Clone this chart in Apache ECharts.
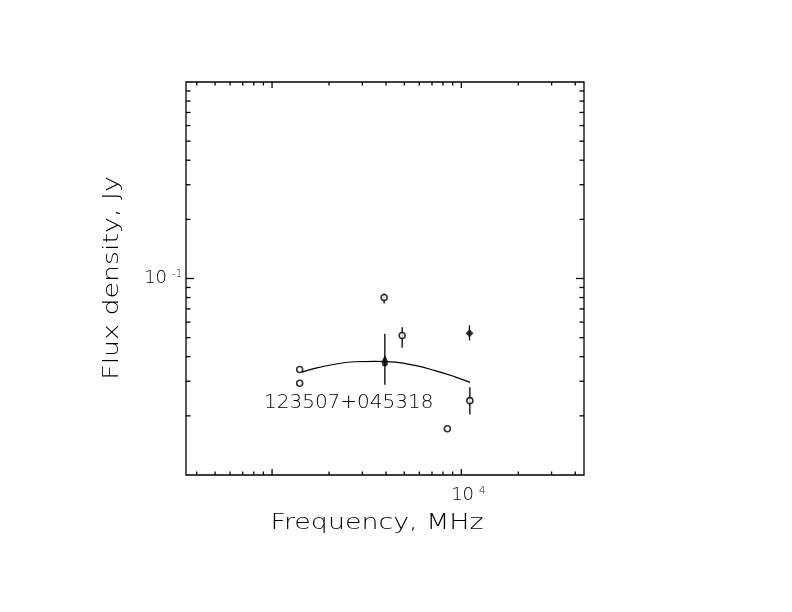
<!DOCTYPE html>
<html lang="en">
<head>
<meta charset="utf-8">
<title>123507+045318</title>
<script src="https://cdn.jsdelivr.net/npm/echarts@6.0.0/dist/echarts.min.js"></script>
<style>
    html, body { margin: 0; padding: 0; background: #fff; }
    #main { width: 792px; height: 612px; }
</style>
</head>
<body>
<div id="main"></div>
<script type="text/javascript">
    // values: frequency in MHz, flux density in Jy
    var openX = [1400, 1400, 3910, 4870, 11100, 8440];
    var openY = [0.0344, 0.0293, 0.0800, 0.0513, 0.0239, 0.0172];
    var dotX = [3945];
    var dotY = [0.0369];
    var diamondX = [11050];
    var diamondY = [0.0527];
    var triX = [3945];
    var triY = [0.0392];

    // error bars
    var errX = [3910, 4870, 11050, 3945, 11100];
    var errLo = [0.0746, 0.0444, 0.0484, 0.0288, 0.0203];
    var errHi = [0.0838, 0.0565, 0.0577, 0.0523, 0.0280];

    // fitted spectrum
    var fitX = [1441, 1682, 2146, 2739, 3495, 4459, 5689, 7259, 9262, 11120];
    var fitY = [0.0334, 0.0349, 0.0366, 0.0377, 0.0379, 0.0375, 0.0361, 0.0340, 0.0316, 0.0296];

    // tick values
    var xMajorTicks = [1000, 10000];
    var xMinorTicks = [400, 500, 600, 700, 800, 900, 2000, 3000, 4000, 5000, 6000, 7000, 8000, 9000, 20000, 30000, 40000];
    var yMajorTicks = [0.1];
    var yMinorTicks = [0.02, 0.03, 0.04, 0.05, 0.06, 0.07, 0.08, 0.09, 0.2, 0.3, 0.4, 0.5, 0.6, 0.7, 0.8, 0.9];
    var xLabelTicks = [10000];
    var yLabelTicks = [0.1];
    var sourceName = '123507+045318';

    var FONT = "'DejaVu Sans', sans-serif";

    function pairs(xs, ys) {
        return xs.map(function (x, i) { return [x, ys[i]]; });
    }
    function isTick(v, list) {
        return list.some(function (t) { return Math.abs(Math.log10(v) - Math.log10(t)) < 1e-6; });
    }

    var xTickData = xMajorTicks.map(function (v) { return [v, 0.1, 1]; })
        .concat(xMinorTicks.map(function (v) { return [v, 0.1, 0]; }));
    var yTickData = yMajorTicks.map(function (v) { return [1000, v, 1]; })
        .concat(yMinorTicks.map(function (v) { return [1000, v, 0]; }));
    var errData = errX.map(function (x, i) { return [x, errLo[i], errHi[i]]; });

    var lineStyle = { stroke: '#000', lineWidth: 1.3 };

    var myChart = echarts.init(document.getElementById('main'));
    myChart.setOption({
        backgroundColor: '#ffffff',
        animation: false,
        grid: {
            left: 186, top: 82, width: 398, height: 393,
            show: true, borderColor: '#000', borderWidth: 1.3, backgroundColor: 'transparent'
        },
        xAxis: {
            type: 'log',
            min: 351,
            max: 44500,
            axisLine: { show: false },
            axisTick: { show: false },
            splitLine: { show: false },
            axisLabel: {
                margin: 11,
                padding: [0, 0, 0, 14],
                formatter: function (v) {
                    return isTick(v, xLabelTicks) ? '{n|10}{e|4}' : '';
                },
                rich: {
                    n: { fontSize: 18, fontFamily: FONT, fontWeight: 200, color: '#000' },
                    e: { fontSize: 10, fontFamily: FONT, fontWeight: 200, color: '#000', verticalAlign: 'top', padding: [0, 0, 0, 5] }
                }
            }
        },
        yAxis: {
            type: 'log',
            min: 0.01,
            max: 1,
            axisLine: { show: false },
            axisTick: { show: false },
            splitLine: { show: false },
            axisLabel: {
                margin: 4,
                formatter: function (v) {
                    return isTick(v, yLabelTicks) ? '{n|10}{e|-1}' : '';
                },
                rich: {
                    n: { fontSize: 18, fontFamily: FONT, fontWeight: 200, color: '#000' },
                    e: { fontSize: 10, fontFamily: FONT, fontWeight: 200, color: '#000', verticalAlign: 'top', padding: [0, 0, 0, 5] }
                }
            }
        },
        graphic: [
            {
                type: 'text', x: 112, y: 278, rotation: Math.PI / 2, scaleX: 1.22,
                style: { text: 'Flux density, Jy', fontSize: 22, fontFamily: FONT, fontWeight: 200, fill: '#000', align: 'center', verticalAlign: 'middle' }
            },
            {
                type: 'text', x: 377, y: 523, scaleX: 1.22,
                style: { text: 'Frequency, MHz', fontSize: 22, fontFamily: FONT, fontWeight: 200, fill: '#000', align: 'center', verticalAlign: 'middle' }
            },
            {
                type: 'text', x: 264, y: 403,
                style: { text: sourceName, fontSize: 20, fontFamily: FONT, fontWeight: 200, fill: '#000', align: 'left', verticalAlign: 'middle' }
            }
        ],
        series: [
            {
                // x axis ticks, bottom and top
                type: 'custom',
                clip: false,
                silent: true,
                data: xTickData,
                renderItem: function (params, api) {
                    var cs = params.coordSys;
                    var x = api.coord([api.value(0), 0.1])[0];
                    var len = api.value(2) ? 6 : 3.5;
                    return {
                        type: 'group',
                        children: [
                            { type: 'line', shape: { x1: x, y1: cs.y + cs.height, x2: x, y2: cs.y + cs.height - len }, style: lineStyle },
                            { type: 'line', shape: { x1: x, y1: cs.y, x2: x, y2: cs.y + len }, style: lineStyle }
                        ]
                    };
                }
            },
            {
                // y axis ticks, left and right
                type: 'custom',
                clip: false,
                silent: true,
                data: yTickData,
                renderItem: function (params, api) {
                    var cs = params.coordSys;
                    var y = api.coord([1000, api.value(1)])[1];
                    var len = api.value(2) ? 8 : 4.5;
                    return {
                        type: 'group',
                        children: [
                            { type: 'line', shape: { x1: cs.x, y1: y, x2: cs.x + len, y2: y }, style: lineStyle },
                            { type: 'line', shape: { x1: cs.x + cs.width, y1: y, x2: cs.x + cs.width - len, y2: y }, style: lineStyle }
                        ]
                    };
                }
            },
            {
                // error bars
                type: 'custom',
                silent: true,
                data: errData,
                renderItem: function (params, api) {
                    var lo = api.coord([api.value(0), api.value(1)]);
                    var hi = api.coord([api.value(0), api.value(2)]);
                    return {
                        type: 'line',
                        shape: { x1: lo[0], y1: lo[1], x2: hi[0], y2: hi[1] },
                        style: { stroke: '#000', lineWidth: 1.3 }
                    };
                }
            },
            {
                type: 'line',
                data: pairs(fitX, fitY),
                smooth: 0.5,
                showSymbol: false,
                silent: true,
                lineStyle: { color: '#000', width: 1.2 }
            },
            {
                type: 'scatter',
                data: pairs(openX, openY),
                symbol: 'circle',
                symbolSize: 6,
                itemStyle: { color: '#fff', borderColor: '#000', borderWidth: 1.6 }
            },
            {
                type: 'scatter',
                data: pairs(dotX, dotY),
                symbol: 'circle',
                symbolSize: 6,
                itemStyle: { color: '#000' }
            },
            {
                type: 'scatter',
                data: pairs(diamondX, diamondY),
                symbol: 'diamond',
                symbolSize: 8,
                itemStyle: { color: '#000' }
            },
            {
                type: 'scatter',
                data: pairs(triX, triY),
                symbol: 'triangle',
                symbolSize: 7,
                itemStyle: { color: '#000' }
            }
        ]
    });
</script>
</body>
</html>
